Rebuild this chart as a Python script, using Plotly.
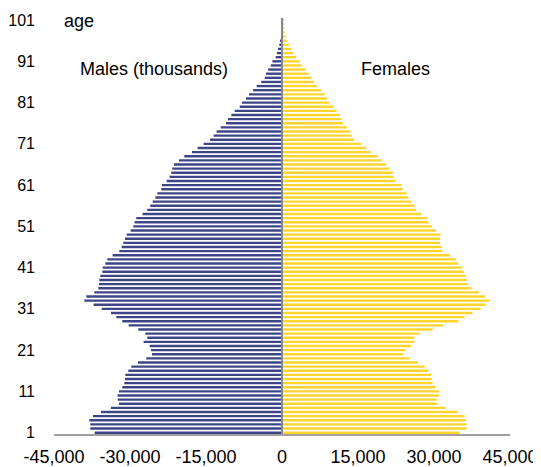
import plotly.graph_objects as go

ages = list(range(1, 102))

males = [
    -36970, -37840, -37840, -38030, -37310, -35730, -33760, -32180, -32440, -32440,
    -32180, -31520, -31120, -30990, -30920, -30330, -29740, -28430, -26780, -25660,
    -25860, -26120, -27310, -26580, -26980, -28360, -30270, -31520, -32700, -33760,
    -35600, -37180, -39020, -38620, -37050, -36250, -36120, -36060, -35860, -35470,
    -35400, -34870, -34480, -33430, -32110, -31650, -31320, -30990, -30660, -29870,
    -29350, -29100, -28770, -27520, -26600, -26000, -25530, -25000, -24610, -23820,
    -23700, -22770, -22180, -21850, -21650, -21320, -20330, -19280, -17770, -16650,
    -15470, -14200, -13500, -12900, -12100, -11050, -10660, -10000, -9340, -8350,
    -7900, -7100, -6500, -5700, -5000, -4100, -3400, -3150, -2750, -2200,
    -1900, -1250, -1000, -800, -530, -300, -180, -120, -70, -40,
    -20,
]

females = [
    35070, 36450, 36450, 36320, 36060, 34680, 32310, 30660, 30530, 30990,
    31060, 30330, 29740, 29540, 29410, 28890, 28160, 26850, 25200, 23950,
    24410, 25530, 26120, 26120, 27180, 29740, 31850, 34810, 36060, 37570,
    39220, 40200, 40990, 40140, 38890, 37440, 36720, 36450, 36260, 35860,
    35600, 34810, 34350, 33160, 31650, 31520, 31190, 31190, 31320, 30400,
    29580, 28950, 28690, 27500, 26450, 26190, 25530, 24940, 24610, 23820,
    23560, 22440, 22040, 21910, 21250, 20590, 19670, 18890, 17500, 16580,
    15600, 14280, 13750, 13490, 12830, 12040, 11780, 11450, 10790, 10130,
    9280, 8880, 8420, 7760, 6970, 6320, 5860, 5260, 4670, 3880,
    3490, 2760, 2300, 1910, 1380, 920, 720, 530, 460, 330,
    400,
]

x_tickvals = [-45000, -30000, -15000, 0, 15000, 30000, 45000]
x_ticktext = ["-45,000", "-30,000", "-15,000", "0", "15,000", "30,000", "45,000"]
y_tickvals = [1, 11, 21, 31, 41, 51, 61, 71, 81, 91, 101]
y_ticktext = [str(v) for v in y_tickvals]

FONT = "Liberation Sans, Arial, sans-serif"
MALE_COLOR = "#3D4587"
FEMALE_COLOR = "#FFD42C"

fig = go.Figure()
fig.add_trace(go.Bar(y=ages, x=males, orientation="h", name="Males",
                     marker=dict(color=MALE_COLOR, line=dict(width=0)),
                     hoverinfo="skip"))
fig.add_trace(go.Bar(y=ages, x=females, orientation="h", name="Females",
                     marker=dict(color=FEMALE_COLOR, line=dict(width=0)),
                     hoverinfo="skip"))

# page body has an 8px margin, so the figure is sized to fit the 541x467 window
fig.update_layout(
    width=533, height=459,
    margin=dict(l=46, r=31, t=10, b=33, autoexpand=False),
    paper_bgcolor="white", plot_bgcolor="white",
    barmode="overlay", bargap=0.42,
    showlegend=False,
    font=dict(family=FONT, color="#000000"),
    xaxis=dict(
        range=[-45000, 45000], tickvals=x_tickvals, ticktext=x_ticktext,
        showgrid=False, zeroline=False, showline=True,
        linecolor="#A0A0A0", linewidth=2, ticks="",
        tickfont=dict(size=18, family=FONT, color="#000000"),
        ticklabelstandoff=5, fixedrange=True, automargin=False,
    ),
    yaxis=dict(
        range=[0.68, 101.5], tickvals=y_tickvals, ticktext=y_ticktext,
        showgrid=False, zeroline=False, showline=False, ticks="",
        tickfont=dict(size=16, family=FONT, color="#000000"),
        ticklabelstandoff=18, fixedrange=True, automargin=False,
    ),
    shapes=[dict(type="line", xref="x", yref="paper", x0=0, x1=0, y0=0, y1=1,
                 line=dict(color="#888888", width=2), layer="above")],
    annotations=[
        dict(text="age", xref="paper", yref="paper", x=0.0175, y=0.993,
             xanchor="left", yanchor="middle", showarrow=False,
             font=dict(size=18, family=FONT, color="#000000")),
        dict(text="Males (thousands)", xref="paper", yref="paper", x=0.0526, y=0.877,
             xanchor="left", yanchor="middle", showarrow=False,
             font=dict(size=18, family=FONT, color="#000000")),
        dict(text="Females", xref="paper", yref="paper", x=0.669, y=0.877,
             xanchor="left", yanchor="middle", showarrow=False,
             font=dict(size=18, family=FONT, color="#000000")),
    ],
)

fig.write_html("out.html", config={"displayModeBar": False})
